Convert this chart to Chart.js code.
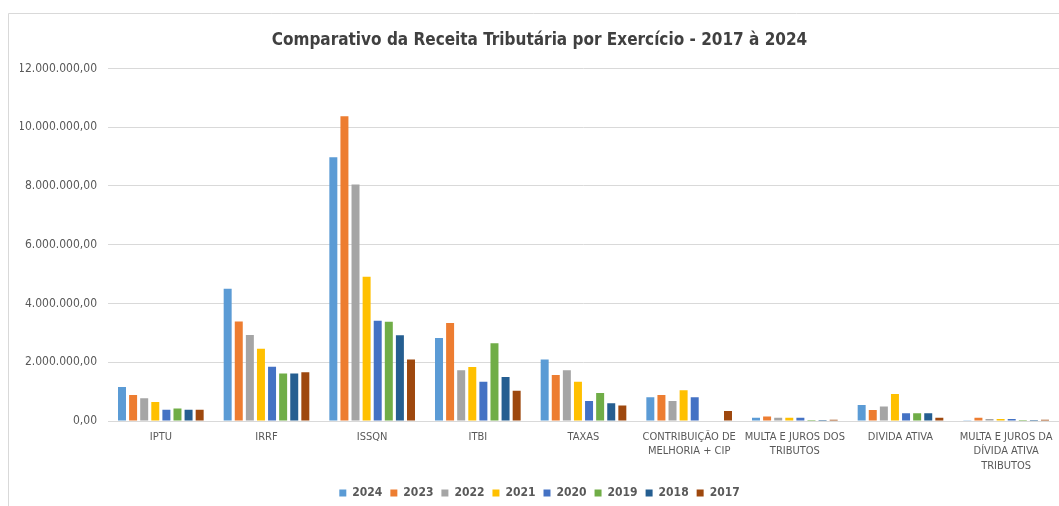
<!DOCTYPE html>
<html>
<head>
<meta charset="utf-8">
<script src="https://cdn.jsdelivr.net/npm/chart.js@4.4.1/dist/chart.umd.min.js"></script>
<style>
  html, body { margin: 0; padding: 0; background: #ffffff; }
  #wrap { width: 1059px; height: 506px; position: relative; }
</style>
</head>
<body>
<div id="wrap"><canvas id="c" width="1059" height="506"></canvas></div>
<script>
const categories = [
  "IPTU", "IRRF", "ISSQN", "ITBI", "TAXAS",
  ["CONTRIBUIÇÃO DE", "MELHORIA + CIP"],
  ["MULTA E JUROS DOS", "TRIBUTOS"],
  "DIVIDA ATIVA",
  ["MULTA E JUROS DA", "DÍVIDA ATIVA", "TRIBUTOS"]
];
const years = ["2024", "2023", "2022", "2021", "2020", "2019", "2018", "2017"];
const v2024 = [1160000, 4500000, 8980000, 2830000, 2100000, 810000, 110000, 550000, 30000];
const v2023 = [890000, 3390000, 10370000, 3340000, 1570000, 890000, 160000, 380000, 110000];
const v2022 = [780000, 2930000, 8050000, 1730000, 1730000, 680000, 110000, 500000, 70000];
const v2021 = [650000, 2460000, 4910000, 1840000, 1340000, 1050000, 110000, 920000, 70000];
const v2020 = [390000, 1850000, 3410000, 1340000, 680000, 810000, 110000, 270000, 70000];
const v2019 = [430000, 1620000, 3380000, 2650000, 960000, 0, 40000, 270000, 40000];
const v2018 = [390000, 1620000, 2920000, 1500000, 610000, 0, 40000, 270000, 40000];
const v2017 = [390000, 1660000, 2100000, 1030000, 530000, 340000, 50000, 110000, 50000];
const yTicks = [0, 2000000, 4000000, 6000000, 8000000, 10000000, 12000000];

const seriesValues = [v2024, v2023, v2022, v2021, v2020, v2019, v2018, v2017];
const colors = ["#5B9BD5", "#ED7D31", "#A5A5A5", "#FFC000", "#4472C4", "#70AD47", "#255E91", "#9E480E"];

function fmtBR(n) {
  const int = Math.round(n).toString().replace(/\B(?=(\d{3})+(?!\d))/g, ".");
  return int + ",00";
}

const FONT = "'Liberation Sans Narrow', 'DejaVu Sans Condensed', 'Liberation Sans', sans-serif";

const framePlugin = {
  id: 'frame',
  beforeDraw(chart) {
    const ctx = chart.ctx;
    ctx.save();
    ctx.fillStyle = '#ffffff';
    ctx.fillRect(0, 0, chart.width, chart.height);
    ctx.strokeStyle = '#d9d9d9';
    ctx.lineWidth = 1;
    ctx.beginPath();
    ctx.moveTo(8.5, chart.height);
    ctx.lineTo(8.5, 13.5);
    ctx.lineTo(chart.width, 13.5);
    ctx.stroke();
    ctx.restore();
  }
};

new Chart(document.getElementById('c'), {
  type: 'bar',
  data: {
    labels: categories,
    datasets: years.map((y, i) => ({
      label: y,
      data: seriesValues[i],
      backgroundColor: colors[i],
      borderWidth: 0,
      categoryPercentage: 0.84,
      barPercentage: 0.72
    }))
  },
  plugins: [framePlugin],
  options: {
    responsive: false,
    animation: false,
    devicePixelRatio: 1,
    layout: { padding: { left: 20, right: 0, top: 0, bottom: -3 } },
    plugins: {
      title: {
        display: true,
        text: 'Comparativo da Receita Tributária por Exercício - 2017 à 2024',
        color: '#404040',
        font: { family: FONT, size: 17, weight: 'bold' },
        padding: { top: 30, bottom: 18 }
      },
      legend: {
        position: 'bottom',
        labels: {
          boxWidth: 7,
          boxHeight: 7,
          padding: 8,
          color: '#595959',
          font: { family: FONT, size: 12, weight: 'bold' }
        }
      },
      tooltip: { enabled: false }
    },
    scales: {
      x: {
        afterFit(scale) { scale.paddingLeft = 0; scale.paddingRight = 0; scale.height -= 3; },
        grid: { display: false, drawTicks: false, tickLength: 0 },
        border: { display: true, color: '#d9d9d9' },
        ticks: {
          color: '#595959',
          font: { family: FONT, size: 11, lineHeight: 1.3 },
          maxRotation: 0,
          autoSkip: false,
          padding: 9
        }
      },
      y: {
        min: 0,
        max: 12000000,
        afterBuildTicks(scale) { scale.ticks = yTicks.map(v => ({ value: v })); },
        afterFit(scale) { scale.width = 88; },
        grid: { color: '#d9d9d9', drawTicks: false },
        border: { display: false },
        ticks: {
          color: '#595959',
          font: { family: FONT, size: 12 },
          padding: 11,
          callback: (v) => fmtBR(v)
        }
      }
    }
  }
});
</script>
</body>
</html>
